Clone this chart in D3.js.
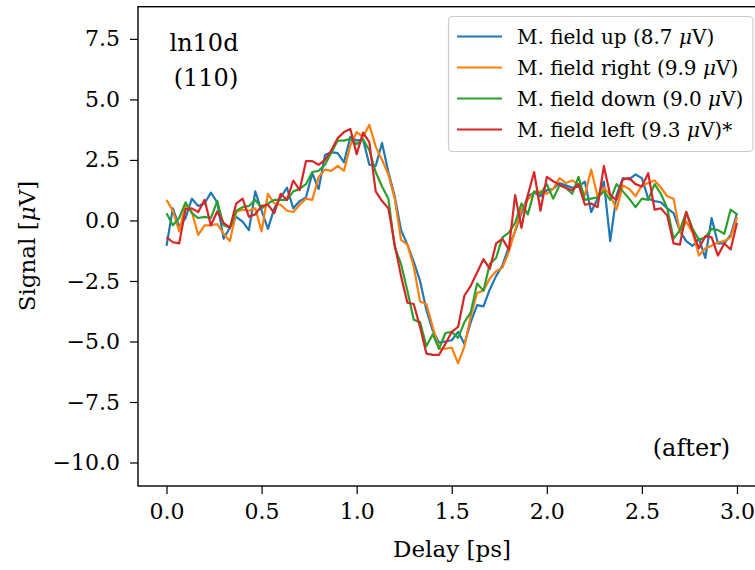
<!DOCTYPE html>
<html><head><meta charset="utf-8">
<script src="https://cdn.jsdelivr.net/npm/d3@7"></script>
<style>body{margin:0;background:#fff}svg{display:block}text{font-family:"DejaVu Serif",serif}</style>
</head><body><svg id="c" width="755" height="570"></svg>
<script>
const delayStep = 1/30;
const nPoints = 91;
const seriesNames = ["M. field up (8.7 ", "M. field right (9.9 ", "M. field down (9.0 ", "M. field left (9.3 "];
const seriesSuffix = ["V)", "V)", "V)", "V)*"];
const seriesColors = ["#1f77b4", "#ff7f0e", "#2ca02c", "#d62728"];
const fieldUp = [-1.05,0.5,-0.25,0.1,0.9,0.6,0.7,1.15,0.75,-0.75,-0.3,0.15,-0.05,-0.4,1.2,0.4,-0.35,0.5,0.95,1.35,0.5,0.8,0.95,1.95,1.3,2.7,2.82,2.78,2.4,3.45,3.3,3.35,2.3,2.25,3.2,2.0,1.0,-0.4,-1.0,-1.7,-2.5,-3.7,-4.55,-5.05,-5.0,-4.95,-4.6,-5.1,-4.2,-3.5,-3.55,-2.85,-2.3,-1.85,-1.1,-0.45,0.3,1.0,1.15,1.0,1.25,1.3,1.55,1.45,1.35,1.4,1.6,0.35,0.9,1.6,-0.85,1.05,1.75,1.7,1.9,1.75,0.9,0.8,0.75,0.5,0.3,-0.45,-0.85,-1.05,-0.75,-1.55,0.1,-0.95,-0.95,-0.6,0.3];
const fieldRight = [0.85,0.4,-0.45,0.65,0.35,-0.6,-0.2,-0.2,-0.15,-0.55,-0.85,0.35,0.45,0.4,0.5,-0.45,1.1,0.7,0.65,0.4,0.35,0.65,0.9,0.85,1.8,2.1,2.05,2.25,2.05,3.1,3.65,3.45,3.95,3.05,2.5,1.9,0.9,-0.8,-1.0,-1.9,-3.35,-3.45,-4.4,-5.3,-5.3,-5.25,-5.9,-5.2,-3.95,-3.0,-2.9,-2.4,-2.1,-1.95,-1.3,-0.4,0.45,0.85,1.15,1.2,1.1,1.3,1.75,1.55,1.65,1.5,1.05,2.1,1.0,1.35,1.05,0.45,1.45,1.3,1.0,1.45,1.55,1.65,1.35,1.0,0.9,-0.5,-0.05,-0.5,-1.45,-1.15,-1.05,-0.9,-0.85,-0.7,0.15];
const fieldDown = [0.3,-0.2,0.1,0.75,0.3,0.1,0.15,0.1,0.8,-0.2,-0.3,0.4,0.55,0.6,0.85,0.5,0.7,0.85,0.85,0.85,1.2,1.3,1.5,2.0,2.05,2.3,2.8,3.3,3.3,3.37,3.15,3.35,2.9,2.0,1.4,0.9,-1.1,-1.8,-2.9,-4.1,-4.2,-5.2,-4.7,-5.3,-4.65,-4.6,-4.85,-4.2,-3.8,-2.6,-2.9,-1.8,-1.55,-0.7,-0.5,-0.1,0.7,0.25,1.2,1.1,1.5,0.9,1.45,1.35,1.1,1.8,0.85,0.9,0.95,1.2,0.85,1.5,1.2,0.9,0.55,0.9,0.85,1.5,1.1,0.5,-0.75,-0.4,0.35,-0.35,-0.8,-0.7,-0.35,-0.4,-0.55,0.45,0.25];
const fieldLeft = [-0.69,-0.9,-0.95,0.47,0.5,0.35,0.85,-0.2,0.37,-0.1,-0.3,0.7,0.9,0.15,0.25,0.6,0.65,0.3,1.1,0.85,1.65,1.25,2.45,2.45,2.3,2.5,2.9,3.4,3.65,3.78,2.74,3.63,3.24,1.2,0.8,0.5,-1.0,-2.3,-3.4,-3.45,-4.4,-5.5,-5.55,-5.55,-5.1,-4.6,-4.4,-3.1,-2.7,-2.15,-1.6,-2.0,-0.95,-0.76,-1.2,1.05,-0.3,1.05,2.0,0.4,1.8,1.62,1.48,1.34,1.25,1.5,0.65,0.7,0.55,2.25,1.05,0.85,1.7,1.75,1.5,1.4,1.95,0.45,0.5,0.2,-0.95,-1.0,0.35,-0.45,-1.15,-0.65,-0.7,-1.45,-0.95,-1.2,-0.1];
const xTicks = [0, 0.5, 1.0, 1.5, 2.0, 2.5, 3.0];
const yTicks = [-10, -7.5, -5, -2.5, 0, 2.5, 5, 7.5];

const allSeries = [fieldUp, fieldRight, fieldDown, fieldLeft];
const delays = d3.range(nPoints).map(i => i * delayStep);

const svg = d3.select("#c");
const L = 138, R = 765.5, T = 6.7, B = 486;
const x = d3.scaleLinear().domain([-0.15, 3.15]).range([L, R]);
const y = d3.scaleLinear().domain([-10.97, 8.83]).range([B, T]);
const fmt = d3.format(".1f");

// lines
const line = d3.line().x((d, i) => x(delays[i])).y(d => y(d));
const g = svg.append("g");
allSeries.forEach((s, k) => {
  g.append("path").datum(s).attr("d", line).attr("fill", "none")
    .attr("stroke", seriesColors[k]).attr("stroke-width", 2.2)
    .attr("stroke-linejoin", "round").attr("stroke-linecap", "butt");
});

// axes
const fs = 22;
const xa = svg.append("g").attr("transform", `translate(0,${B})`)
  .call(d3.axisBottom(x).tickValues(xTicks).tickFormat(fmt).tickSize(8).tickSizeOuter(0).tickPadding(9));
const ya = svg.append("g").attr("transform", `translate(${L},0)`)
  .call(d3.axisLeft(y).tickValues(yTicks).tickFormat(fmt).tickSize(8).tickSizeOuter(0).tickPadding(10));
[xa, ya].forEach(a => {
  a.select(".domain").remove();
  a.selectAll(".tick line").attr("stroke", "#000").attr("stroke-width", 1.2);
  a.selectAll(".tick text").attr("fill", "#000").style("font-size", fs + "px").style("font-family", '"DejaVu Serif",serif');
});
// spines
svg.append("rect").attr("x", L).attr("y", T).attr("width", R - L).attr("height", B - T)
  .attr("fill", "none").attr("stroke", "#000").attr("stroke-width", 1.4);

// axis labels
svg.append("text").attr("x", 452).attr("y", 557).attr("text-anchor", "middle")
  .style("font-size", "23px").text("Delay [ps]");
const yl = svg.append("text").attr("transform", "translate(35,246) rotate(-90)").attr("text-anchor", "middle")
  .style("font-size", "23px");
yl.append("tspan").text("Signal [");
yl.append("tspan").style("font-style", "italic").text("μ");
yl.append("tspan").text("V]");

// annotations
svg.append("text").attr("x", 204).attr("y", 51).attr("text-anchor", "middle").style("font-size", "24px").text("ln10d");
svg.append("text").attr("x", 206).attr("y", 86).attr("text-anchor", "middle").style("font-size", "24px").text("(110)");
svg.append("text").attr("x", 730).attr("y", 456).attr("text-anchor", "end").style("font-size", "24px").text("(after)");

// legend
const lg = svg.append("g");
lg.append("rect").attr("x", 448.5).attr("y", 16.5).attr("width", 304.5).attr("height", 135).attr("rx", 4)
  .attr("fill", "#fff").attr("fill-opacity", 0.8).attr("stroke", "#cccccc").attr("stroke-width", 1.2);
seriesNames.forEach((n, k) => {
  const yy = 36.5 + k * 31;
  lg.append("line").attr("x1", 457).attr("x2", 502).attr("y1", yy).attr("y2", yy)
    .attr("stroke", seriesColors[k]).attr("stroke-width", 2.2);
  const t = lg.append("text").attr("x", 517).attr("y", yy + 7).style("font-size", "20px");
  t.append("tspan").text(n);
  t.append("tspan").style("font-style", "italic").text("μ");
  t.append("tspan").text(seriesSuffix[k]);
});
</script></body></html>
